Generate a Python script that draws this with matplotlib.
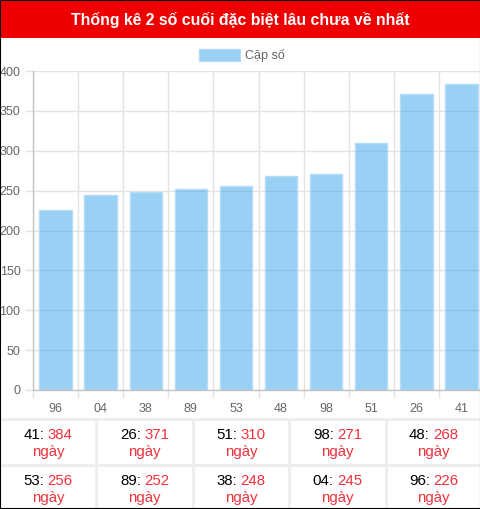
import matplotlib
matplotlib.use("Agg")
import matplotlib.pyplot as plt
from matplotlib.patches import Rectangle
from matplotlib.lines import Line2D

plt.rcParams['font.family'] = ['Liberation Sans', 'DejaVu Sans']

title = "Thống kê 2 số cuối đặc biệt lâu chưa về nhất"
legend_label = "Cặp số"
categories = ["96", "04", "38", "89", "53", "48", "98", "51", "26", "41"]
values = [226, 245, 248, 252, 256, 268, 271, 310, 371, 384]
table_pairs = ["41", "26", "51", "98", "48", "53", "89", "38", "04", "96"]
table_days = [384, 371, 310, 271, 268, 256, 252, 248, 245, 226]
unit = "ngày"

W, H = 481, 509
fig = plt.figure(figsize=(W / 100, H / 100), dpi=100)

def fx(px):
    return px / W

def fy(py):
    return 1 - py / H

bar_face = (54 / 255, 162 / 255, 235 / 255, 0.5)
bar_edge = '#b4dcf8'
grid_c = '#e3e3e3'
zero_c = '#c4c4c4'
label_c = '#666666'
red_text = '#f0323c'

# Title bar
fig.patches.append(Rectangle((0, fy(38)), 1, 38 / H, transform=fig.transFigure,
                             facecolor='#ee0000', edgecolor='none', zorder=0))
fig.text(0.5, fy(25), title, color='white', fontsize=11.4, fontweight='bold',
         ha='center', va='baseline')

# Legend
fig.patches.append(Rectangle((fx(199), fy(61)), fx(41), 12 / H, transform=fig.transFigure,
                             facecolor=bar_face, edgecolor=bar_edge, lw=1))
fig.text(fx(245), fy(59), legend_label, color=label_c, fontsize=9, ha='left', va='baseline')

# Axes
left, right, top, bottom = 33, 484, 71, 390
ax = fig.add_axes([fx(left), fy(bottom), (right - left) / W, (bottom - top) / H])
x = list(range(len(categories)))
ax.bar(x, values, width=0.72, color=bar_face, edgecolor=bar_edge, linewidth=1, zorder=2)
ax.set_xlim(-0.5, len(categories) - 0.5)
ax.set_ylim(0, 400)
ax.set_yticks(range(0, 401, 50))
ax.set_xticks(x)
ax.set_xticklabels(categories)
ax.set_xticks([i - 0.5 for i in range(len(categories) + 1)], minor=True)
ax.tick_params(axis='x', which='major', length=0, pad=9, labelsize=9, labelcolor=label_c)
ax.tick_params(axis='x', which='minor', length=6, width=1, color=grid_c)
ax.tick_params(axis='y', which='major', length=6, width=1, color=grid_c, pad=3,
               labelsize=9, labelcolor=label_c)
ax.grid(axis='x', which='minor', color=grid_c, linewidth=1, alpha=1, zorder=1)
ax.grid(axis='y', which='major', color=grid_c, linewidth=1, alpha=1, zorder=1)
ax.set_axisbelow(True)
for s in ['top', 'right']:
    ax.spines[s].set_visible(False)
for s in ['left', 'bottom']:
    ax.spines[s].set_color(zero_c)
    ax.spines[s].set_linewidth(1)

# Table
line_c = '#eeeeee'
fig.lines.append(Line2D([0, 1], [fy(419), fy(419)], transform=fig.transFigure, color=line_c, lw=2))
fig.lines.append(Line2D([0, 1], [fy(465), fy(465)], transform=fig.transFigure, color=line_c, lw=2))
col_edges = [0, 96, 193, 289, 386, 481]
for xe in col_edges[1:-1]:
    fig.lines.append(Line2D([fx(xe), fx(xe)], [fy(419), fy(509)], transform=fig.transFigure,
                            color=line_c, lw=2))

renderer = fig.canvas.get_renderer()
fs_t = 10.8
gap = 3.2
for i, (p, d) in enumerate(zip(table_pairs, table_days)):
    row, col = divmod(i, 5)
    cx = (col_edges[col] + col_edges[col + 1]) / 2
    y1 = 439 + row * 46
    y2 = 456 + row * 46
    t1 = fig.text(0, fy(y1), p + ":", color='black', fontsize=fs_t, ha='left', va='baseline')
    t2 = fig.text(0, fy(y1), str(d), color=red_text, fontsize=fs_t, ha='left', va='baseline')
    w1 = t1.get_window_extent(renderer).width
    w2 = t2.get_window_extent(renderer).width
    total = w1 + gap + w2
    x0 = cx - total / 2
    t1.set_x(fx(x0))
    t2.set_x(fx(x0 + w1 + gap))
    fig.text(fx(cx), fy(y2), unit, color=red_text, fontsize=fs_t, ha='center', va='baseline')

# Outer border
fig.patches.append(Rectangle((0, 0), 1, 1, transform=fig.transFigure, facecolor='none',
                             edgecolor='black', lw=1.5, zorder=10))

fig.savefig("out.png", dpi=100)
